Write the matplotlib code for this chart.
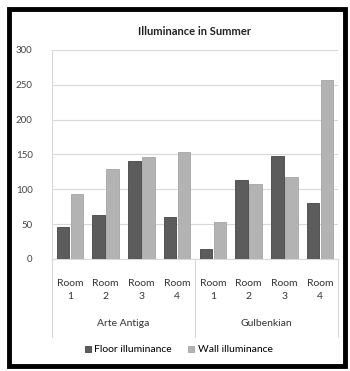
import numpy as np
import matplotlib.pyplot as plt
from matplotlib.patches import Rectangle

plt.rcParams['font.family'] = ['Lato', 'DejaVu Sans']

groups = ["Arte Antiga", "Gulbenkian"]
rooms = ["Room\n1", "Room\n2", "Room\n3", "Room\n4"]
floor = [46, 63, 141, 60, 15, 114, 148, 80]
wall = [93, 129, 147, 154, 53, 107, 118, 257]
yticks = [0, 50, 100, 150, 200, 250, 300]

FLOOR_C = "#5c5c5c"
WALL_C = "#b3b3b3"
GRID_C = "#d9d9d9"

fig = plt.figure(figsize=(3.5, 3.71), dpi=100)
ax = fig.add_axes([52 / 350, 1 - 259 / 371, 286 / 350, 209 / 371])

x = np.arange(len(floor))
w = 0.35
ax.bar(x - w / 2 - 0.02, floor, width=w, color=FLOOR_C, edgecolor="#444444",
       linewidth=0.6, label="Floor illuminance", zorder=3)
ax.bar(x + w / 2 + 0.02, wall, width=w, color=WALL_C, edgecolor="#a5a5a5",
       linewidth=0.6, label="Wall illuminance", zorder=3)

ax.set_xlim(-0.5, len(floor) - 0.5)
ax.set_ylim(0, 300)
ax.set_yticks(yticks)
ax.tick_params(axis="y", length=0, labelsize=7, colors="#444444", pad=14)
ax.set_xticks([])
ax.yaxis.grid(True, color=GRID_C, linewidth=0.8, zorder=0)
for s in ["top", "right"]:
    ax.spines[s].set_visible(False)
ax.spines["left"].set_color(GRID_C)
ax.spines["bottom"].set_color(GRID_C)

trans = ax.get_xaxis_transform()
for i in range(len(floor)):
    ax.text(i, -0.148, rooms[i % 4], transform=trans, ha="center", va="center",
            fontsize=7.5, color="#333333", linespacing=1.5)
for g, name in enumerate(groups):
    ax.text(g * 4 + 1.5, -0.311, name, transform=trans, ha="center",
            va="center", fontsize=7.5, color="#333333")
for xv in [-0.5, 3.5, 7.5]:
    ax.plot([xv, xv], [0, -0.373], transform=trans, color=GRID_C,
            linewidth=0.8, clip_on=False)

ax.set_title("Illuminance in Summer", fontsize=8, fontweight="bold",
             color="#222222", pad=11)

fig.legend(loc="center", bbox_to_anchor=(0.51, 1 - 350 / 371), ncol=2,
           frameon=False, fontsize=7.5, handlelength=0.6, handleheight=0.6,
           handletextpad=0.3, columnspacing=1.6)

fig.patches.append(Rectangle((9 / 350, 1 - 366 / 371), 336 / 350, 357 / 371,
                             transform=fig.transFigure, fill=False,
                             edgecolor="black", linewidth=3.5))

fig.savefig("out.png", dpi=100)
